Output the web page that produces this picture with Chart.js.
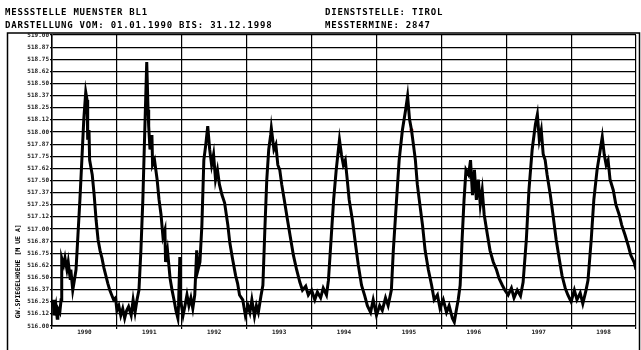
<!DOCTYPE html>
<html>
<head>
<meta charset="utf-8">
<script src="https://cdn.jsdelivr.net/npm/chart.js@4/dist/chart.umd.min.js"></script>
<style>
  body { margin: 0; background: #fff; }
  #wrap { position: relative; width: 641px; height: 350px; }
  .hd { position: absolute; font-family: "DejaVu Sans Mono", monospace; font-weight: bold; font-size: 9px; color: #000; white-space: pre; letter-spacing: 0.8px; }
</style>
</head>
<body>
<div id="wrap">
  <canvas id="gwChart" width="641" height="350"></canvas>
  <div class="hd" style="left:5px; top:7px;">MESSSTELLE MUENSTER BL1</div>
  <div class="hd" style="left:5px; top:20px;">DARSTELLUNG VOM: 01.01.1990 BIS: 31.12.1998</div>
  <div class="hd" style="left:325px; top:7px;">DIENSTSTELLE: TIROL</div>
  <div class="hd" style="left:325px; top:20px;">MESSTERMINE: 2847</div>
</div>
<script>
// groundwater level readings (decimal year, m above sea level)
const dates = [
  1990.02, 1990.03, 1990.06, 1990.08, 1990.09, 1990.12, 1990.14, 1990.15, 1990.18, 1990.20,
  1990.23, 1990.25, 1990.28, 1990.29, 1990.32, 1990.34, 1990.37, 1990.40, 1990.43, 1990.46,
  1990.49, 1990.52, 1990.54, 1990.55, 1990.57, 1990.58, 1990.62, 1990.65, 1990.68, 1990.71,
  1990.74, 1990.77, 1990.80, 1990.83, 1990.86, 1990.89, 1990.92, 1990.95, 1990.98, 1991.00,
  1991.03, 1991.06, 1991.09, 1991.12, 1991.15, 1991.18, 1991.22, 1991.25, 1991.28, 1991.31,
  1991.34, 1991.37, 1991.40, 1991.43, 1991.46, 1991.48, 1991.49, 1991.51, 1991.54, 1991.55,
  1991.58, 1991.62, 1991.65, 1991.68, 1991.71, 1991.74, 1991.75, 1991.78, 1991.82, 1991.85,
  1991.88, 1991.91, 1991.94, 1991.95, 1991.97, 1991.98, 1992.02, 1992.05, 1992.08, 1992.11,
  1992.14, 1992.17, 1992.20, 1992.23, 1992.25, 1992.28, 1992.31, 1992.34, 1992.37, 1992.40,
  1992.43, 1992.46, 1992.49, 1992.52, 1992.55, 1992.58, 1992.62, 1992.66, 1992.71, 1992.74,
  1992.78, 1992.83, 1992.86, 1992.89, 1992.94, 1992.98, 1993.02, 1993.05, 1993.08, 1993.12,
  1993.15, 1993.18, 1993.22, 1993.25, 1993.28, 1993.31, 1993.34, 1993.37, 1993.38, 1993.42,
  1993.45, 1993.48, 1993.51, 1993.54, 1993.58, 1993.63, 1993.68, 1993.72, 1993.77, 1993.82,
  1993.86, 1993.91, 1993.95, 1994.00, 1994.05, 1994.09, 1994.14, 1994.18, 1994.23, 1994.26,
  1994.29, 1994.34, 1994.38, 1994.43, 1994.46, 1994.49, 1994.52, 1994.55, 1994.58, 1994.63,
  1994.68, 1994.72, 1994.77, 1994.82, 1994.86, 1994.91, 1994.95, 1995.00, 1995.05, 1995.09,
  1995.14, 1995.18, 1995.23, 1995.26, 1995.31, 1995.35, 1995.40, 1995.45, 1995.48, 1995.51,
  1995.54, 1995.57, 1995.60, 1995.63, 1995.66, 1995.71, 1995.75, 1995.80, 1995.85, 1995.89,
  1995.94, 1995.98, 1996.03, 1996.08, 1996.12, 1996.17, 1996.20, 1996.23, 1996.26, 1996.29,
  1996.32, 1996.35, 1996.38, 1996.42, 1996.45, 1996.48, 1996.51, 1996.54, 1996.57, 1996.60,
  1996.63, 1996.66, 1996.71, 1996.75, 1996.80, 1996.85, 1996.89, 1996.94, 1996.98, 1997.03,
  1997.08, 1997.12, 1997.17, 1997.22, 1997.26, 1997.31, 1997.35, 1997.40, 1997.45, 1997.48,
  1997.51, 1997.54, 1997.57, 1997.60, 1997.63, 1997.68, 1997.72, 1997.77, 1997.82, 1997.86,
  1997.91, 1997.95, 1998.00, 1998.05, 1998.09, 1998.14, 1998.18, 1998.23, 1998.26, 1998.31,
  1998.35, 1998.40, 1998.45, 1998.48, 1998.51, 1998.54, 1998.57, 1998.60, 1998.65, 1998.69,
  1998.74, 1998.78, 1998.83, 1998.88, 1998.92, 1998.97, 1999.00
];
const levels = [
  516.27, 516.11, 516.21, 516.08, 516.18, 516.14, 516.27, 516.70, 516.63, 516.70,
  516.58, 516.66, 516.49, 516.58, 516.37, 516.45, 516.58, 516.94, 517.30, 517.71,
  518.13, 518.41, 518.33, 517.92, 518.02, 517.71, 517.56, 517.35, 517.09, 516.89,
  516.78, 516.70, 516.60, 516.52, 516.44, 516.37, 516.32, 516.27, 516.29, 516.16,
  516.21, 516.11, 516.18, 516.08, 516.16, 516.20, 516.11, 516.27, 516.14, 516.27,
  516.37, 516.78, 517.30, 518.02, 518.72, 518.23, 518.06, 517.82, 517.97, 517.66,
  517.71, 517.51, 517.30, 517.15, 516.92, 516.99, 516.66, 516.78, 516.49, 516.37,
  516.27, 516.16, 516.08, 516.21, 516.71, 516.27, 516.11, 516.21, 516.32, 516.21,
  516.29, 516.18, 516.32, 516.78, 516.58, 516.66, 517.04, 517.71, 517.87, 518.06,
  517.82, 517.66, 517.77, 517.51, 517.61, 517.46, 517.35, 517.27, 517.04, 516.86,
  516.70, 516.52, 516.44, 516.32, 516.27, 516.11, 516.21, 516.14, 516.27, 516.10,
  516.21, 516.14, 516.31, 516.42, 516.99, 517.51, 517.82, 517.97, 518.04, 517.82,
  517.87, 517.66, 517.61, 517.46, 517.30, 517.09, 516.89, 516.73, 516.58, 516.45,
  516.37, 516.41, 516.32, 516.37, 516.27, 516.35, 516.29, 516.39, 516.32, 516.47,
  516.78, 517.30, 517.61, 517.92, 517.77, 517.66, 517.71, 517.51, 517.30, 517.09,
  516.83, 516.63, 516.42, 516.31, 516.21, 516.14, 516.27, 516.11, 516.21, 516.16,
  516.29, 516.21, 516.37, 516.78, 517.30, 517.71, 518.02, 518.23, 518.37, 518.13,
  518.02, 517.87, 517.71, 517.46, 517.30, 517.04, 516.78, 516.58, 516.42, 516.27,
  516.32, 516.18, 516.27, 516.14, 516.21, 516.08, 516.04, 516.16, 516.27, 516.42,
  516.89, 517.30, 517.61, 517.56, 517.71, 517.35, 517.61, 517.30, 517.51, 517.25,
  517.40, 517.15, 516.94, 516.78, 516.66, 516.58, 516.49, 516.42, 516.37, 516.32,
  516.39, 516.29, 516.37, 516.31, 516.45, 516.89, 517.40, 517.82, 518.08, 518.18,
  517.92, 518.02, 517.77, 517.71, 517.56, 517.35, 517.15, 516.89, 516.68, 516.52,
  516.39, 516.32, 516.25, 516.37, 516.27, 516.34, 516.23, 516.37, 516.47, 516.89,
  517.30, 517.61, 517.82, 517.95, 517.77, 517.66, 517.71, 517.51, 517.40, 517.25,
  517.15, 517.04, 516.94, 516.83, 516.73, 516.66, 516.58
];
// single highlighted reading (red)
const markDates = [1995.54];
const markLevels = [518.02];

const yearLabels = ['1990', '1991', '1992', '1993', '1994', '1995', '1996', '1997', '1998'];
const yTickValues = [516.0, 516.125, 516.25, 516.375, 516.5, 516.625, 516.75, 516.875,
  517.0, 517.125, 517.25, 517.375, 517.5, 517.625, 517.75, 517.875,
  518.0, 518.125, 518.25, 518.375, 518.5, 518.625, 518.75, 518.875, 519.0];
const yTickLabels = ['516.00', '516.12', '516.25', '516.37', '516.50', '516.62', '516.75', '516.87',
  '517.00', '517.12', '517.25', '517.37', '517.50', '517.62', '517.75', '517.87',
  '518.00', '518.12', '518.25', '518.37', '518.50', '518.62', '518.75', '518.87', '519.00'];

const framePlugin = {
  id: 'frame',
  beforeDraw(chart) {
    const c = chart.ctx;
    c.save();
    c.fillStyle = '#fff';
    c.fillRect(0, 0, chart.width, chart.height);
    c.strokeStyle = '#000';
    c.lineWidth = 1.5;
    c.strokeRect(7.5, 33, 632, 320);
    c.restore();
  }
};

const ctx = document.getElementById('gwChart').getContext('2d');
new Chart(ctx, {
  type: 'line',
  data: {
    datasets: [
      {
        label: 'GW',
        data: dates.map((d, i) => ({ x: d, y: levels[i] })),
        borderColor: '#000',
        borderWidth: 3,
        pointRadius: 0,
        tension: 0
      },
      {
        label: 'mark',
        data: markDates.map((d, i) => ({ x: d, y: markLevels[i] })),
        showLine: false,
        pointRadius: 1.5,
        pointBackgroundColor: '#e00',
        pointBorderColor: '#e00'
      }
    ]
  },
  options: {
    responsive: false,
    animation: false,
    layout: { padding: { left: 14, right: 4, top: 35, bottom: 0 } },
    plugins: {
      legend: { display: false },
      tooltip: { enabled: false }
    },
    scales: {
      x: {
        type: 'linear',
        min: 1990,
        max: 1999,
        afterBuildTicks: scale => {
          const t = [];
          for (let i = 0; i <= 18; i++) t.push({ value: 1990 + i / 2 });
          scale.ticks = t;
        },
        afterFit: scale => { scale.height = 24; },
        ticks: {
          autoSkip: false,
          maxRotation: 0,
          padding: 0,
          color: '#222',
          font: { family: 'DejaVu Sans Mono', size: 6, weight: 'bold' },
          callback: (v) => (v % 1 === 0.5 ? yearLabels[Math.floor(v) - 1990] : '')
        },
        grid: {
          color: c => (c.tick && c.tick.value % 1 === 0 ? '#000' : 'rgba(0,0,0,0)'),
          lineWidth: 1.2,
          tickLength: 3
        },
        border: { color: '#000', width: 1.5 }
      },
      y: {
        min: 516,
        max: 519,
        afterBuildTicks: scale => {
          scale.ticks = yTickValues.map(v => ({ value: v }));
        },
        afterFit: scale => { scale.width = 38; },
        ticks: {
          autoSkip: false,
          padding: 1,
          color: '#222',
          font: { family: 'DejaVu Sans Mono', size: 6, weight: 'bold' },
          callback: (v, i) => yTickLabels[i]
        },
        grid: { color: '#000', lineWidth: 1.2, tickLength: 2 },
        border: { color: '#000', width: 1.5 },
        title: {
          display: true,
          text: '  GW.SPIEGELHOEHE [M UE A]',
          align: 'start',
          color: '#000',
          font: { family: 'DejaVu Sans Mono', size: 6.5, weight: 'bold' },
          padding: { top: 0, bottom: 0 }
        }
      }
    }
  },
  plugins: [framePlugin]
});
</script>
</body>
</html>
